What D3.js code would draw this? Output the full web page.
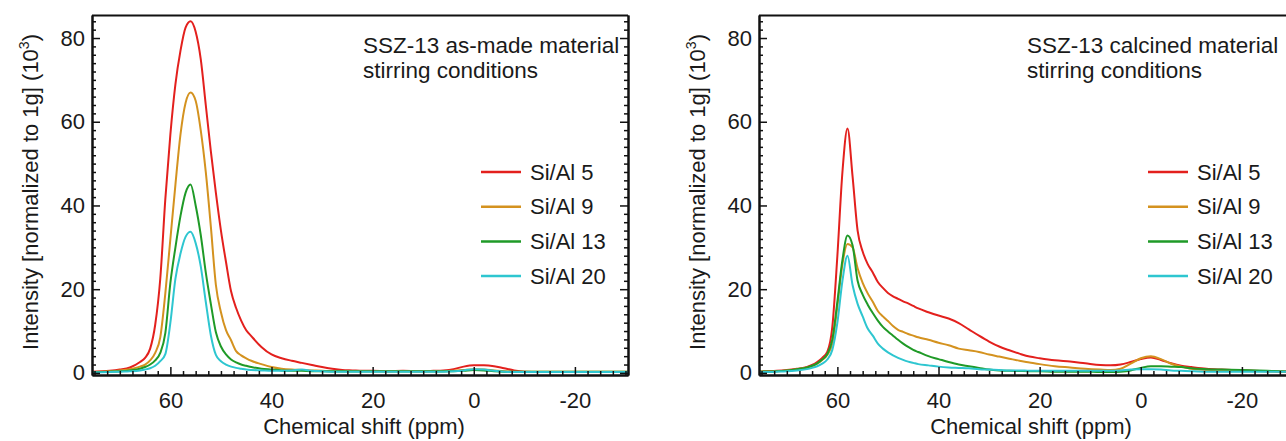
<!DOCTYPE html>
<html>
<meta charset="utf-8">
<head>
<script src="https://d3js.org/d3.v7.min.js"></script>
<style>
body { margin: 0; background: #fff; }
text { font-family: "Liberation Sans", Arial, sans-serif; fill: #1a1a1a; }
</style>
</head>
<body>
<svg id="chart" width="1286" height="441"></svg>
<script>

// chemical shift grid (ppm), shared by every series
var ppm = [75.5, 72, 70, 68, 66,
           65, 64, 63, 62, 61, 60, 59, 58, 57, 56, 55,
           54, 53, 52, 51, 50, 49, 48, 47, 46, 45, 44,
           42, 40, 38, 36, 34, 32, 30, 28, 26, 24, 22, 20,
           17, 14, 11, 8,
           6, 4, 2, 0, -2, -4, -6, -8, -10,
           -13, -16, -20, -25, -30.5];

var seriesNames = ["Si/Al 5", "Si/Al 9", "Si/Al 13", "Si/Al 20"];
var seriesColors = ["#e3201d", "#d4921f", "#1f9a27", "#2ec6d0"];

// as-made material (10^3)
var madeSi5 = [0.3, 0.5, 0.8, 1.3, 2.6,
               3.6, 5.8, 11.5, 22.5, 41.5, 57, 69, 77, 82.5, 84, 81.5,
               75, 64, 53, 43, 34, 26.5, 19.5, 15.5, 12.5, 10.2, 8.8,
               6.2, 4.4, 3.5, 2.9, 2.4, 1.9, 1.4, 1.0, 0.7, 0.6, 0.5, 0.5,
               0.4, 0.5, 0.4, 0.5,
               0.6, 0.9, 1.5, 1.8, 1.8, 1.6, 1.1, 0.6, 0.3,
               0.2, 0.2, 0.2, 0.2, 0.2];
var madeSi9 = [0.2, 0.4, 0.6, 0.9, 1.5,
               2.0, 3.0, 4.8, 8.5, 19, 32, 45, 57, 64.5, 67, 65,
               58, 48, 35, 21, 14.5, 10.2, 7.8, 5.2, 4.2, 3.5, 2.9,
               2.1, 1.4, 1.0, 0.8, 0.7, 0.6, 0.5, 0.4, 0.4, 0.4, 0.4, 0.4,
               0.4, 0.4, 0.4, 0.4,
               0.4, 0.5, 0.7, 0.9, 0.8, 0.6, 0.4, 0.3, 0.3,
               0.3, 0.3, 0.3, 0.3, 0.3];
var madeSi13 = [0.2, 0.3, 0.4, 0.6, 1.0,
                1.4, 2.0, 3.0, 4.8, 9.5, 21.5, 30, 37.5, 43, 45, 40,
                33, 24, 16.5, 9.7, 6.3, 4.4, 3.2, 2.5, 2.0, 1.7, 1.4,
                1.0, 0.8, 0.6, 0.5, 0.5, 0.4, 0.4, 0.4, 0.4, 0.4, 0.4, 0.4,
                0.4, 0.4, 0.4, 0.4,
                0.4, 0.4, 0.5, 0.7, 0.6, 0.4, 0.3, 0.3, 0.3,
                0.3, 0.3, 0.3, 0.3, 0.3];
var madeSi20 = [0.1, 0.2, 0.3, 0.4, 0.6,
                0.8, 1.1, 1.7, 2.8, 4.5, 12, 22.5, 28.5, 32.5, 33.7, 31,
                25.5, 17, 9, 4.3, 2.8, 2.0, 1.5, 1.2, 1.0, 0.8, 0.7,
                0.6, 0.5, 0.5, 0.6, 0.8, 0.5, 0.4, 0.3, 0.3, 0.3, 0.3, 0.3,
                0.3, 0.3, 0.3, 0.3,
                0.3, 0.4, 0.6, 0.9, 0.8, 0.5, 0.3, 0.2, 0.2,
                0.2, 0.2, 0.2, 0.2, 0.2];

// calcined material (10^3)
var calcSi5 = [0.3, 0.5, 0.7, 1.0, 1.4,
               1.9, 2.6, 3.6, 5.0, 11, 28, 48, 58.4, 47, 34, 29,
               26, 24, 21.7, 20.3, 19.1, 18.3, 17.7, 17.1, 16.6, 16.0, 15.4,
               14.5, 13.7, 13.0, 11.9, 10.4, 8.9, 7.5, 6.3, 5.4, 4.6, 3.9, 3.5,
               3.0, 2.7, 2.3, 1.9,
               1.8, 2.0, 2.6, 3.3, 3.7, 3.1, 2.3, 1.7, 1.4,
               1.0, 0.8, 0.6, 0.4, 0.3];
var calcSi9 = [0.3, 0.4, 0.6, 0.9, 1.3,
               1.6, 2.2, 3.1, 4.3, 7.0, 16, 26, 30.8, 30, 25, 21.5,
               19, 17, 14.8, 13.5, 12.4, 11.2, 10.3, 9.8, 9.3, 8.9, 8.5,
               7.9, 7.2, 6.6, 5.8, 5.4, 5.0, 4.4, 3.9, 3.4, 2.9, 2.5, 2.1,
               1.6, 1.3, 1.0, 0.8,
               0.7, 1.0, 2.2, 3.5, 4.0, 3.3, 2.2, 1.5, 1.0,
               0.7, 0.5, 0.5, 0.4, 0.3];
var calcSi13 = [0.3, 0.4, 0.6, 0.9, 1.3,
                1.7, 2.3, 3.2, 4.5, 8, 17, 27, 32.8, 30.5, 22, 18.7,
                16.3, 14.3, 12.5, 11, 9.9, 8.9, 7.9, 7.0, 6.2, 5.5, 5.0,
                4.0, 3.3, 2.6, 2.0, 1.6, 1.2, 0.8, 0.6, 0.5, 0.45, 0.4, 0.4,
                0.3, 0.3, 0.3, 0.2,
                0.2, 0.3, 0.6, 1.2, 1.6, 1.6, 1.5, 1.4, 1.1,
                0.9, 0.8, 0.7, 0.5, 0.3];
var calcSi20 = [0.2, 0.3, 0.4, 0.6, 0.9,
                1.2, 1.6, 2.2, 3.2, 5.5, 12, 22, 28, 21, 16.5, 13.5,
                10.6, 8.9, 7.0, 5.8, 4.9, 4.2, 3.6, 3.1, 2.7, 2.4, 2.1,
                1.8, 1.5, 1.3, 1.2, 1.1, 0.9, 0.8, 0.7, 0.6, 0.6, 0.5, 0.5,
                0.5, 0.5, 0.5, 0.5,
                0.5, 0.6, 0.8, 0.9, 0.9, 0.8, 0.6, 0.5, 0.4,
                0.3, 0.3, 0.3, 0.3, 0.3];

var xTicks = [60, 40, 20, 0, -20];
var yTicks = [0, 20, 40, 60, 80];
var xMinor = d3.range(-30, 76, 2.5).filter(function(d){ return d % 20 !== 0; });
var yMinor = d3.range(2, 86, 2).filter(function(d){ return d % 20 !== 0; });

var plotW = 536, plotH = 360, plotTop = 15;
var svg = d3.select("#chart");

var x = d3.scaleLinear().domain([75.5, -30.5]).range([0, plotW]);
var y = d3.scaleLinear().domain([-0.5, 85.5]).range([plotH, 0]);

var line = d3.line()
    .x(function(d){ return x(d[0]); })
    .y(function(d){ return y(d[1]); })
    .curve(d3.curveMonotoneX);

// plain hyphen for negatives, as in the original figure
var fmt = function(d){ return String(d); };

function styleAxis(sel) {
    sel.select(".domain").attr("stroke", "#111").attr("stroke-width", 2);
    sel.selectAll(".tick line").attr("stroke", "#111").attr("stroke-width", 1.5);
    sel.selectAll(".tick text").attr("fill", "#1a1a1a").style("font-size", "22px")
        .style("font-family", "'Liberation Sans', Arial, sans-serif");
}

function drawPanel(left, label, series, labelX) {
    var g = svg.append("g").attr("transform", "translate(" + left + "," + plotTop + ")");

    // curves
    series.forEach(function(vals, i) {
        g.append("path")
            .datum(ppm.map(function(p, j){ return [p, vals[j]]; }))
            .attr("d", line)
            .attr("fill", "none")
            .attr("stroke", seriesColors[i])
            .attr("stroke-width", 2);
    });

    // bottom axis, ticks pointing inward
    g.append("g").attr("transform", "translate(0," + plotH + ")")
        .call(d3.axisBottom(x).tickValues(xMinor).tickFormat("").tickSizeInner(-4).tickSizeOuter(0))
        .call(styleAxis);
    g.append("g").attr("transform", "translate(0," + plotH + ")")
        .call(d3.axisBottom(x).tickValues(xTicks).tickFormat(fmt).tickSizeInner(-8).tickSizeOuter(0).tickPadding(17))
        .call(styleAxis);

    // left axis
    g.append("g")
        .call(d3.axisLeft(y).tickValues(yMinor).tickFormat("").tickSizeInner(-4).tickSizeOuter(0))
        .call(styleAxis);
    g.append("g")
        .call(d3.axisLeft(y).tickValues(yTicks).tickFormat(fmt).tickSizeInner(-8).tickSizeOuter(0).tickPadding(7))
        .call(styleAxis);

    // right axis, ticks only
    g.append("g").attr("transform", "translate(" + plotW + ",0)")
        .call(d3.axisRight(y).tickValues(yMinor).tickFormat("").tickSizeInner(-4).tickSizeOuter(0))
        .call(styleAxis);
    g.append("g").attr("transform", "translate(" + plotW + ",0)")
        .call(d3.axisRight(y).tickValues(yTicks).tickFormat("").tickSizeInner(-8).tickSizeOuter(0))
        .call(styleAxis);

    // top frame
    g.append("line")
        .attr("x1", 0).attr("x2", plotW).attr("y1", 0.5).attr("y2", 0.5)
        .attr("stroke", "#111").attr("stroke-width", 2);

    // axis titles
    var yt = g.append("text")
        .attr("transform", "translate(-54," + 177 + ") rotate(-90)")
        .attr("text-anchor", "middle")
        .style("font-size", "22px");
    yt.append("tspan").text("Intensity [normalized to 1g] (10");
    yt.append("tspan").text("3").style("font-size", "14px").attr("dy", -9);
    yt.append("tspan").text(")").attr("dy", 9);

    g.append("text")
        .attr("x", plotW / 2 + 4).attr("y", 419)
        .attr("text-anchor", "middle")
        .style("font-size", "22px")
        .text("Chemical shift (ppm)");

    // annotation
    g.append("text").attr("x", labelX).attr("y", 38).style("font-size", "22.5px").text(label);
    g.append("text").attr("x", labelX).attr("y", 63).style("font-size", "22.5px").text("stirring conditions");

    // legend
    var leg = g.selectAll(".leg").data(seriesNames).enter().append("g")
        .attr("transform", function(d, i){ return "translate(389," + (157 + i * 34.7) + ")"; });
    leg.append("line")
        .attr("x1", 0).attr("x2", 40)
        .attr("stroke", function(d, i){ return seriesColors[i]; })
        .attr("stroke-width", 2.5);
    leg.append("text")
        .attr("x", 49).attr("dy", "0.35em")
        .style("font-size", "22px")
        .text(function(d){ return d; });
}

drawPanel(92, "SSZ-13 as-made material", [madeSi5, madeSi9, madeSi13, madeSi20], 271);
drawPanel(759, "SSZ-13 calcined material", [calcSi5, calcSi9, calcSi13, calcSi20], 268);

</script>
</body>
</html>
